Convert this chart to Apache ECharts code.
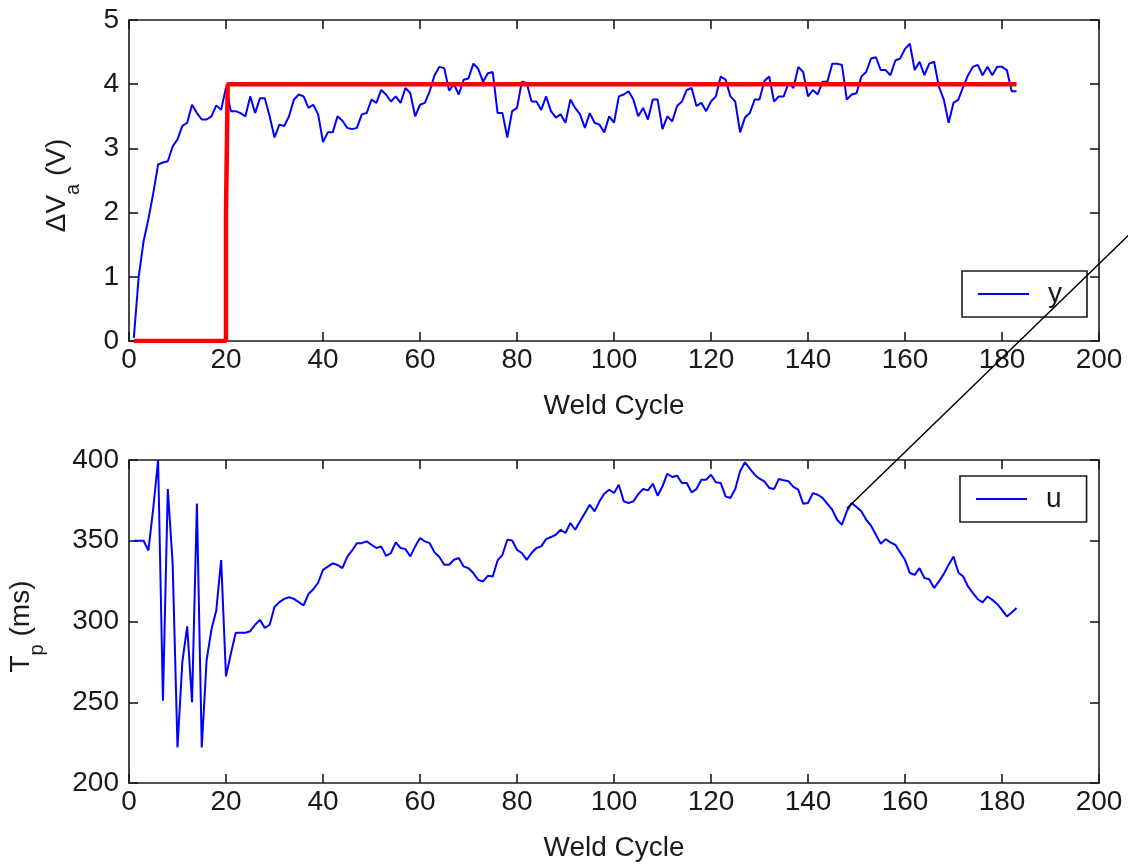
<!DOCTYPE html>
<html>
<head>
<meta charset="utf-8">
<script src="https://cdn.jsdelivr.net/npm/echarts@6/dist/echarts.min.js"></script>
<style>
html,body{margin:0;padding:0;background:#ffffff;}
#chart{width:1128px;height:865px;}
</style>
</head>
<body>
<div id="chart"></div>
<script>
// ---------------- data ----------------
const weldCycles = Array.from({length: 183}, (_, i) => i + 1);

// arc voltage deviation, output y (V)
const yValues = [
  0.05, 1.0, 1.55, 1.9, 2.3, 2.75, 2.78, 2.8, 3.03, 3.14,
  3.35, 3.4, 3.68, 3.55, 3.45, 3.45, 3.5, 3.67, 3.6, 3.95,
  3.58, 3.58, 3.55, 3.5, 3.81, 3.55, 3.78, 3.78, 3.5, 3.17,
  3.37, 3.35, 3.5, 3.76, 3.84, 3.81, 3.63, 3.68, 3.53, 3.1,
  3.25, 3.25, 3.5, 3.43, 3.32, 3.3, 3.32, 3.53, 3.55, 3.76,
  3.71, 3.91, 3.84, 3.73, 3.81, 3.71, 3.94, 3.86, 3.5, 3.68,
  3.71, 3.89, 4.14, 4.27, 4.25, 3.9, 4.0, 3.84, 4.07, 4.09,
  4.32, 4.24, 4.04, 4.17, 4.19, 3.55, 3.55, 3.17, 3.58, 3.63,
  4.04, 4.02, 3.73, 3.73, 3.6, 3.81, 3.58, 3.48, 3.53, 3.4,
  3.76, 3.63, 3.53, 3.32, 3.55, 3.4, 3.37, 3.25, 3.5, 3.4,
  3.81, 3.84, 3.89, 3.76, 3.5, 3.63, 3.45, 3.76, 3.76, 3.3,
  3.5, 3.42, 3.66, 3.73, 3.91, 3.94, 3.66, 3.71, 3.58, 3.73,
  3.81, 4.12, 4.07, 3.81, 3.73, 3.25, 3.48, 3.55, 3.76, 3.76,
  4.05, 4.12, 3.73, 3.81, 3.81, 4.02, 3.94, 4.27, 4.19, 3.81,
  3.91, 3.84, 4.04, 4.04, 4.32, 4.32, 4.3, 3.76, 3.84, 3.86,
  4.12, 4.19, 4.4, 4.42, 4.22, 4.22, 4.14, 4.37, 4.4, 4.55,
  4.63, 4.22, 4.35, 4.14, 4.32, 4.35, 3.96, 3.76, 3.4, 3.71,
  3.76, 3.96, 4.14, 4.27, 4.3, 4.14, 4.27, 4.14, 4.27, 4.27,
  4.22, 3.89, 3.89
];

// reference (set-point) step
const refCycles = [1, 20, 20, 20.35, 20.35, 183];
const refValues = [0, 0, 2, 2, 4, 4];

// peak current duration, input u (ms)
const uValues = [
  350, 350, 350, 344, 370, 400, 251, 382, 336, 222,
  275, 297, 250, 373, 222, 276, 295, 307, 338, 266,
  280, 293, 293, 293, 294, 298, 301, 296, 298, 309,
  312, 314, 315, 314, 312, 310, 317, 320, 324, 332,
  334, 336, 335, 333, 340, 344, 348.5, 348.5, 349.6, 347.5,
  345.5, 346.5, 340.7, 342.4, 349, 345.5, 344.8, 340.3, 346.5, 351.7,
  349.6, 348.5, 342.8, 339.9, 335.1, 335.1, 338.2, 339.3, 334.1, 333,
  330, 325.8, 324.8, 328.3, 327.9, 337.8, 341.3, 350.6, 350.2, 344.4,
  342.4, 338.2, 342.4, 345.5, 346.5, 351, 352.3, 353.7, 356.8, 354.8,
  361, 356.8, 362, 367.2, 372.3, 368.2, 374.4, 379.1, 381.6, 379.6,
  384.7, 374.4, 373.4, 374.4, 378.9, 382, 381.2, 385.3, 377.9, 383.7,
  391.5, 389.5, 390.3, 385.8, 385.8, 380, 382, 387.8, 387.8, 390.9,
  386.2, 385.8, 377.5, 376.5, 382, 393, 398.6, 394.6, 390.9, 388.4,
  386.8, 382.7, 382, 388.2, 387.4, 386.8, 383.3, 381.6, 372.9, 373.4,
  379.5, 378.5, 376.5, 372.9, 369.2, 363, 359.9, 368.2, 373.4, 370.9,
  368.2, 363, 359.3, 353.7, 348.1, 351, 349, 347.5, 342.8, 338.2,
  330, 328.9, 333, 326.9, 326.2, 320.7, 324.8, 329.5, 335.1, 340.3,
  330.4, 327.9, 321.7, 317.6, 313.8, 311.8, 315.5, 313.4, 310.9, 307.2,
  303.1, 305.6, 308.3
];

// axis ranges / labels
const xRange = {min: 0, max: 200, interval: 20};
const yTopRange = {min: 0, max: 5, interval: 1};
const yBotRange = {min: 200, max: 400, interval: 50};
const xTitle = 'Weld Cycle';
const annotationPoint = [148, 370];

// ---------------- styling ----------------
const FONT = "'Liberation Sans', Arial, Helvetica, sans-serif";
const INK = '#1a1a1a';
const FS = 28;

function axisBase(range, showLabel, isX) {
  return {
    type: 'value',
    min: range.min, max: range.max, interval: range.interval,
    axisLine: {show: true, onZero: false, lineStyle: {color: INK, width: 1.6}},
    axisTick: {show: true, inside: true, length: 9, lineStyle: {color: INK, width: 1.6}},
    splitLine: {show: false},
    axisLabel: {
      show: showLabel, fontSize: FS, color: INK, fontFamily: FONT,
      margin: isX ? 5 : 10
    }
  };
}

const chart = echarts.init(document.getElementById('chart'), null, {renderer: 'canvas'});

const xAxes = [
  Object.assign(axisBase(xRange, true, true), {gridIndex: 0, position: 'bottom',
    name: xTitle, nameLocation: 'middle', nameGap: 51,
    nameTextStyle: {fontSize: FS, color: INK, fontFamily: FONT}}),
  Object.assign(axisBase(xRange, false, true), {gridIndex: 0, position: 'top'}),
  Object.assign(axisBase(xRange, true, true), {gridIndex: 1, position: 'bottom',
    name: xTitle, nameLocation: 'middle', nameGap: 51,
    nameTextStyle: {fontSize: FS, color: INK, fontFamily: FONT}}),
  Object.assign(axisBase(xRange, false, true), {gridIndex: 1, position: 'top'})
];
const yAxes = [
  Object.assign(axisBase(yTopRange, true, false), {gridIndex: 0, position: 'left'}),
  Object.assign(axisBase(yTopRange, false, false), {gridIndex: 0, position: 'right'}),
  Object.assign(axisBase(yBotRange, true, false), {gridIndex: 1, position: 'left'}),
  Object.assign(axisBase(yBotRange, false, false), {gridIndex: 1, position: 'right'})
];

function legendBox(name, left, top) {
  return {
    data: [name], left: left, top: top, orient: 'horizontal',
    padding: [9, 25, 9, 16],
    borderColor: INK, borderWidth: 1.6, borderRadius: 0,
    backgroundColor: '#ffffff',
    itemWidth: 51, itemHeight: 2, icon: 'rect',
    selectedMode: false,
    textStyle: {fontSize: FS, color: INK, fontFamily: FONT, lineHeight: 28, padding: [0, 0, 0, 14]}
  };
}

chart.setOption({
  animation: false,
  backgroundColor: '#ffffff',
  grid: [
    {left: 129, right: 29, top: 20, height: 321},
    {left: 129, right: 29, top: 460, height: 323}
  ],
  xAxis: xAxes,
  yAxis: yAxes,
  legend: [legendBox('y', 962, 271), legendBox('u', 960, 476)],
  series: [
    {
      name: 'y', type: 'line', xAxisIndex: 0, yAxisIndex: 0,
      data: weldCycles.map((c, i) => [c, yValues[i]]),
      showSymbol: false, symbol: 'none',
      lineStyle: {color: '#0000ff', width: 2}, itemStyle: {color: '#0000ff'}
    },
    {
      name: 'ref', type: 'line', xAxisIndex: 0, yAxisIndex: 0,
      data: refCycles.map((c, i) => [c, refValues[i]]),
      showSymbol: false, symbol: 'none',
      lineStyle: {color: '#ff0000', width: 4.5}, itemStyle: {color: '#ff0000'}
    },
    {
      name: 'u', type: 'line', xAxisIndex: 2, yAxisIndex: 2,
      data: weldCycles.map((c, i) => [c, uValues[i]]),
      showSymbol: false, symbol: 'none',
      lineStyle: {color: '#0000ff', width: 2}, itemStyle: {color: '#0000ff'}
    }
  ]
});

// ---- y-axis titles with subscripts (measured so parts sit side by side) ----
const measureCtx = document.createElement('canvas').getContext('2d');
function measure(txt, size) {
  measureCtx.font = size + 'px ' + FONT;
  return measureCtx.measureText(txt).width;
}
function rotatedTitle(parts, cx, cy) {
  const widths = parts.map(p => measure(p.t, p.s));
  const total = widths.reduce((a, b) => a + b, 0);
  let x = -total / 2;
  const children = parts.map((p, i) => {
    const el = {
      type: 'text', x: x, y: p.sub ? 16 : 0,
      style: {text: p.t, fontSize: p.s, fontFamily: FONT, fill: INK,
              textAlign: 'left', align: 'left', textVerticalAlign: 'middle', verticalAlign: 'middle'}
    };
    x += widths[i];
    return el;
  });
  return {type: 'group', x: cx, y: cy, rotation: Math.PI / 2, children: children};
}

const tip = chart.convertToPixel({seriesIndex: 2}, annotationPoint);

chart.setOption({
  graphic: [
    rotatedTitle([{t: 'ΔV', s: FS}, {t: 'a', s: 20, sub: true}, {t: ' (V)', s: FS}], 57, 185.5),
    rotatedTitle([{t: 'T', s: FS}, {t: 'p', s: 20, sub: true}, {t: ' (ms)', s: FS}], 21, 626.5),
    {
      type: 'line', z: 100,
      shape: {x1: tip[0], y1: tip[1], x2: tip[0] + 300, y2: tip[1] - 291},
      style: {stroke: '#000000', lineWidth: 1.5}
    }
  ]
});
</script>
</body>
</html>
